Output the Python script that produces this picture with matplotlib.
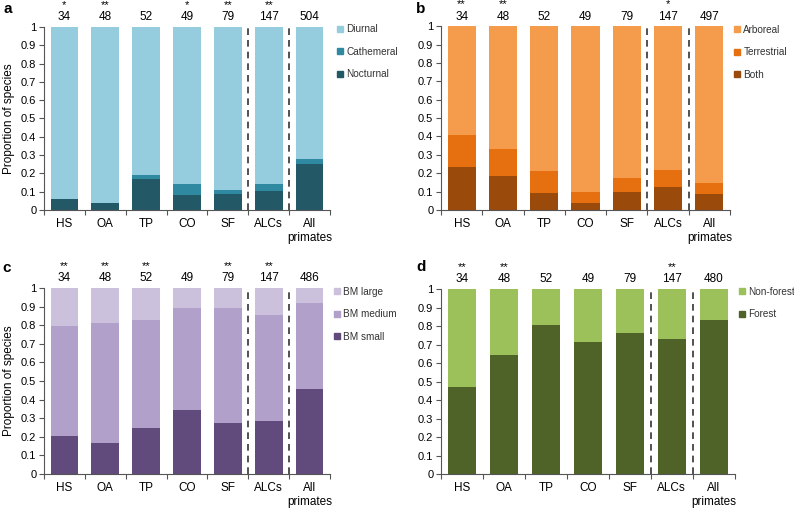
import numpy as np
import matplotlib.pyplot as plt
from matplotlib.lines import Line2D

plt.rcParams['font.family'] = ['Liberation Sans', 'DejaVu Sans']
plt.rcParams['font.size'] = 8

groups = ['HS', 'OA', 'TP', 'CO', 'SF', 'ALCs', 'All\nprimates']

# a: activity pattern
nocturnal = [0.06, 0.04, 0.17, 0.08, 0.085, 0.105, 0.25]
cathemeral = [0.0, 0.0, 0.02, 0.06, 0.025, 0.035, 0.03]
n_a = [34, 48, 52, 49, 79, 147, 504]
stars_a = ['*', '**', '', '*', '**', '**', '']

# b: substrate
both = [0.235, 0.185, 0.095, 0.04, 0.10, 0.125, 0.085]
terrestrial = [0.175, 0.145, 0.115, 0.06, 0.075, 0.09, 0.06]
n_b = [34, 48, 52, 49, 79, 147, 497]
stars_b = ['**', '**', '', '', '', '*', '']

# c: body mass
bm_small = [0.205, 0.165, 0.25, 0.345, 0.275, 0.285, 0.455]
bm_medium = [0.59, 0.645, 0.58, 0.55, 0.62, 0.57, 0.465]
n_c = [34, 48, 52, 49, 79, 147, 486]
stars_c = ['**', '**', '**', '', '**', '**', '']

# d: habitat
forest = [0.47, 0.645, 0.805, 0.715, 0.76, 0.73, 0.83]
n_d = [34, 48, 52, 49, 79, 147, 480]
stars_d = ['**', '**', '', '', '', '**', '']


def rest(*parts):
    return list(1 - np.sum(parts, axis=0))


# letter, axes rect, y label?, stacks, counts, stars, legend anchor, letter pos
panels = [
    ('a', [0.0554, 0.5866, 0.3602, 0.3603], True,
     [('Nocturnal', nocturnal, '#235867'), ('Cathemeral', cathemeral, '#2f89a0'),
      ('Diurnal', rest(nocturnal, cathemeral), '#95cddf')], n_a, stars_a,
     (1.018, 1.016), (0.004, 0.983)),
    ('b', [0.5554, 0.5866, 0.3640, 0.3620], False,
     [('Both', both, '#9a4a0b'), ('Terrestrial', terrestrial, '#e6700f'),
      ('Arboreal', rest(both, terrestrial), '#f59b4c')], n_b, stars_b,
     (1.008, 1.008), (0.524, 0.983)),
    ('c', [0.0554, 0.0669, 0.3602, 0.3661], True,
     [('BM small', bm_small, '#614a7c'), ('BM medium', bm_medium, '#b1a0c9'),
      ('BM large', rest(bm_small, bm_medium), '#ccc1dd')], n_c, stars_c,
     (1.008, 1.008), (0.003, 0.472)),
    ('d', [0.5554, 0.0669, 0.3700, 0.3641], False,
     [('Forest', forest, '#4f6329'), ('Non-forest', rest(forest), '#9cc15b')], n_d, stars_d,
     (1.008, 1.012), (0.524, 0.474)),
]

fig = plt.figure(figsize=(7.94, 5.08), dpi=100)
x = np.arange(len(groups))

for letter, rect, ylab, stacks, counts, stars, leg_xy, let_xy in panels:
    ax = fig.add_axes(rect)
    bottom = np.zeros(len(groups))
    handles = []
    for name, vals, col in stacks:
        ax.bar(x, vals, 0.68, bottom=bottom, color=col, edgecolor='none')
        bottom += np.array(vals)
        handles.append(Line2D([], [], marker='s', linestyle='none', color=col,
                              markersize=4, label=name))
    ax.set_xlim(-0.5, 6.5)
    ax.set_ylim(0, 1)
    ax.set_yticks(np.arange(0, 1.01, 0.1))
    ax.set_yticklabels(['0'] + ['%.1f' % v for v in np.arange(0.1, 0.95, 0.1)] + ['1'])
    ax.set_xticks(np.arange(-0.5, 6.6, 1))
    ax.set_xticklabels([])
    ax.set_xticks(x, minor=True)
    ax.set_xticklabels(groups, minor=True, fontsize=8.5)
    ax.tick_params(axis='x', which='minor', length=0, pad=6)
    ax.tick_params(axis='both', which='major', length=3.5, color='#555555',
                   direction='out', pad=2)
    for s in ['top', 'right']:
        ax.spines[s].set_visible(False)
    for s in ['left', 'bottom']:
        ax.spines[s].set_color('#555555')
    for xv in [4.5, 5.5]:
        ax.axvline(xv, color='#333333', linestyle=(0, (4, 3)), linewidth=1.2)
    for xi, c, st in zip(x, counts, stars):
        ax.text(xi, 1.052, str(c), ha='center', va='center', fontsize=8.5)
        if st:
            ax.text(xi, 1.118, st, ha='center', va='center', fontsize=8)
    if ylab:
        ax.set_ylabel('Proportion of species', fontsize=8.5, labelpad=4)
    ax.legend(handles=handles[::-1], loc='upper left', bbox_to_anchor=leg_xy,
              frameon=False, handletextpad=0.1, labelspacing=1.25, fontsize=7.2,
              handlelength=1.0, borderaxespad=0, borderpad=0, labelcolor='#333333')
    fig.text(let_xy[0], let_xy[1], letter, fontsize=11,
             fontweight='bold', ha='left', va='center')

fig.savefig('out.png', dpi=100)
